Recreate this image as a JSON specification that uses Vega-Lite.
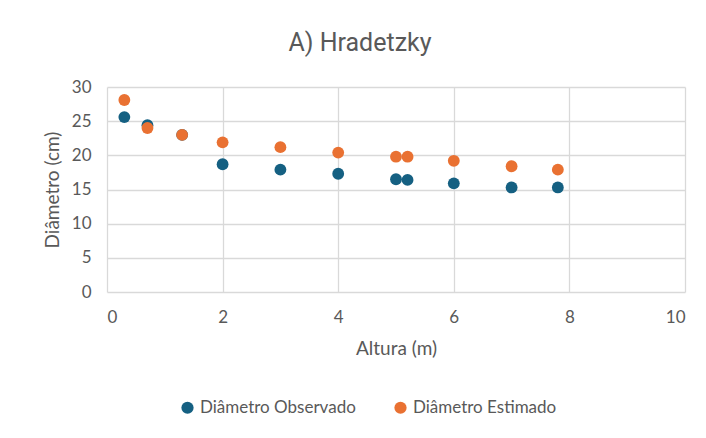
{
  "$schema": "https://vega.github.io/schema/vega-lite/v6.json",
  "width": 578,
  "height": 205,
  "autosize": {"type": "none"},
  "padding": {"left": 107, "top": 87, "right": 21, "bottom": 146},
  "background": "white",
  "title": {
    "text": "A) Hradetzky",
    "fontSize": 25,
    "font": "Liberation Sans Narrow, Roboto, sans-serif",
    "fontWeight": "normal",
    "color": "#595959",
    "anchor": "middle",
    "dx": -36,
    "offset": 22
  },
  "data": {
    "values": [
      {"altura": 0.3, "diametro": 25.6, "serie": "Diâmetro Observado"},
      {"altura": 0.7, "diametro": 24.4, "serie": "Diâmetro Observado"},
      {"altura": 1.3, "diametro": 23.0, "serie": "Diâmetro Observado"},
      {"altura": 2.0, "diametro": 18.7, "serie": "Diâmetro Observado"},
      {"altura": 3.0, "diametro": 17.9, "serie": "Diâmetro Observado"},
      {"altura": 4.0, "diametro": 17.3, "serie": "Diâmetro Observado"},
      {"altura": 5.0, "diametro": 16.5, "serie": "Diâmetro Observado"},
      {"altura": 5.2, "diametro": 16.4, "serie": "Diâmetro Observado"},
      {"altura": 6.0, "diametro": 15.9, "serie": "Diâmetro Observado"},
      {"altura": 7.0, "diametro": 15.3, "serie": "Diâmetro Observado"},
      {"altura": 7.8, "diametro": 15.3, "serie": "Diâmetro Observado"},
      {"altura": 0.3, "diametro": 28.1, "serie": "Diâmetro Estimado"},
      {"altura": 0.7, "diametro": 24.0, "serie": "Diâmetro Estimado"},
      {"altura": 1.3, "diametro": 23.0, "serie": "Diâmetro Estimado"},
      {"altura": 2.0, "diametro": 21.9, "serie": "Diâmetro Estimado"},
      {"altura": 3.0, "diametro": 21.2, "serie": "Diâmetro Estimado"},
      {"altura": 4.0, "diametro": 20.4, "serie": "Diâmetro Estimado"},
      {"altura": 5.0, "diametro": 19.8, "serie": "Diâmetro Estimado"},
      {"altura": 5.2, "diametro": 19.8, "serie": "Diâmetro Estimado"},
      {"altura": 6.0, "diametro": 19.2, "serie": "Diâmetro Estimado"},
      {"altura": 7.0, "diametro": 18.4, "serie": "Diâmetro Estimado"},
      {"altura": 7.8, "diametro": 17.9, "serie": "Diâmetro Estimado"}
    ]
  },
  "mark": {"type": "circle", "size": 140, "opacity": 1},
  "encoding": {
    "x": {
      "field": "altura",
      "type": "quantitative",
      "title": "Altura (m)",
      "scale": {"domain": [0, 10], "nice": false},
      "axis": {"values": [0, 2, 4, 6, 8, 10], "labelPadding": 17, "titlePadding": 14}
    },
    "y": {
      "field": "diametro",
      "type": "quantitative",
      "title": "Diâmetro (cm)",
      "scale": {"domain": [0, 30], "nice": false},
      "axis": {"values": [0, 5, 10, 15, 20, 25, 30], "labelPadding": 16, "titlePadding": 9}
    },
    "color": {
      "field": "serie",
      "type": "nominal",
      "scale": {
        "domain": ["Diâmetro Observado", "Diâmetro Estimado"],
        "range": ["#156082", "#E97132"]
      },
      "legend": {
        "title": null,
        "orient": "none",
        "direction": "horizontal",
        "legendX": 72,
        "legendY": 312,
        "symbolType": "circle",
        "symbolSize": 150,
        "labelFontSize": 17,
        "labelColor": "#595959",
        "labelFont": "Lato, sans-serif",
        "columnPadding": 36,
        "labelOffset": 4
      }
    },
    "order": {"field": "serie", "sort": "descending"}
  },
  "config": {
    "view": {"stroke": null},
    "axis": {
      "grid": true,
      "gridColor": "#d9d9d9",
      "gridWidth": 1.3,
      "domain": false,
      "ticks": false,
      "labelFontSize": 17,
      "labelColor": "#595959",
      "labelFont": "Lato, sans-serif",
      "titleFontSize": 19,
      "titleColor": "#595959",
      "titleFont": "Lato, sans-serif",
      "titleFontWeight": "normal"
    }
  }
}
